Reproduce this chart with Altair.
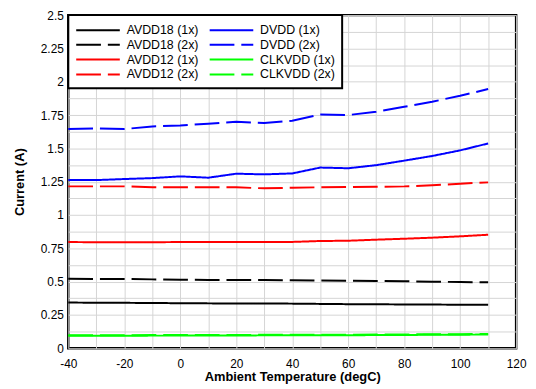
import altair as alt
import pandas as pd

temps = [-40, -30, -20, -10, 0, 10, 20, 30, 40, 50, 60, 70, 80, 90, 100, 110]
avdd18_1x = [0.343, 0.342, 0.341, 0.340, 0.338, 0.337, 0.336, 0.336, 0.335, 0.333, 0.331, 0.330, 0.329, 0.328, 0.327, 0.326]
avdd18_2x = [0.522, 0.520, 0.520, 0.517, 0.515, 0.512, 0.512, 0.512, 0.510, 0.508, 0.507, 0.505, 0.503, 0.500, 0.497, 0.495]
avdd12_1x = [0.797, 0.796, 0.796, 0.796, 0.797, 0.797, 0.798, 0.797, 0.798, 0.805, 0.807, 0.815, 0.822, 0.830, 0.840, 0.852]
avdd12_2x = [1.215, 1.215, 1.215, 1.208, 1.208, 1.208, 1.208, 1.200, 1.205, 1.208, 1.210, 1.212, 1.215, 1.223, 1.235, 1.245]
dvdd_1x = [1.262, 1.262, 1.270, 1.277, 1.290, 1.280, 1.310, 1.305, 1.312, 1.356, 1.351, 1.374, 1.408, 1.443, 1.485, 1.537]
dvdd_2x = [1.645, 1.650, 1.645, 1.665, 1.672, 1.685, 1.700, 1.690, 1.707, 1.755, 1.750, 1.775, 1.812, 1.850, 1.895, 1.945]
clkvdd_1x = [0.094, 0.094, 0.094, 0.095, 0.095, 0.096, 0.096, 0.097, 0.097, 0.098, 0.098, 0.099, 0.100, 0.101, 0.102, 0.103]
clkvdd_2x = [0.098, 0.098, 0.098, 0.099, 0.099, 0.100, 0.100, 0.101, 0.101, 0.102, 0.102, 0.103, 0.104, 0.105, 0.106, 0.107]

series = {
    "AVDD18 (1x)": avdd18_1x,
    "AVDD18 (2x)": avdd18_2x,
    "AVDD12 (1x)": avdd12_1x,
    "AVDD12 (2x)": avdd12_2x,
    "DVDD (1x)": dvdd_1x,
    "DVDD (2x)": dvdd_2x,
    "CLKVDD (1x)": clkvdd_1x,
    "CLKVDD (2x)": clkvdd_2x,
}

legend_order = list(series.keys())
colors = {"AVDD18": "#000000", "AVDD12": "#ff0000", "DVDD": "#0000ff", "CLKVDD": "#00ff00"}

rows = []
for name, vals in series.items():
    for t, v in zip(temps, vals):
        rows.append({"temp": t, "current": v, "series": name})
df = pd.DataFrame(rows)

color_range = [colors[s.split(" ")[0]] for s in legend_order]
dash_range = [[1, 0] if "(1x)" in s else [25, 7] for s in legend_order]

x_ticks = list(range(-40, 121, 10))
y_ticks = [i * 0.125 for i in range(21)]

chart = alt.Chart(df).mark_line(strokeWidth=2).encode(
    x=alt.X("temp:Q",
            scale=alt.Scale(domain=[-40, 120], nice=False, zero=False),
            axis=alt.Axis(values=x_ticks, title="Ambient Temperature (degC)",
                          labelExpr="datum.value % 20 == 0 ? toString(datum.value) : ''",
                          labelFlush=False, labelOverlap=False,
                          ticks=False, labelPadding=10, titlePadding=2)),
    y=alt.Y("current:Q",
            scale=alt.Scale(domain=[0, 2.5], nice=False),
            axis=alt.Axis(values=y_ticks, title="Current (A)",
                          labelExpr="round(datum.value * 8) % 2 == 0 ? toString(datum.value) : ''",
                          labelFlush=False, labelOverlap=False,
                          ticks=False, labelPadding=5, titlePadding=14)),
    color=alt.Color("series:N", scale=alt.Scale(domain=legend_order, range=color_range),
                    legend=alt.Legend(title=None)),
    strokeDash=alt.StrokeDash("series:N", scale=alt.Scale(domain=legend_order, range=dash_range),
                              legend=alt.Legend(title=None)),
    detail="series:N",
).properties(
    width=453,
    height=337,
    autosize=alt.AutoSizeParams(type="none"),
    padding={"left": 61, "top": 5, "right": 12, "bottom": 40},
).configure_view(
    stroke="#000000", strokeWidth=2.5
).configure_axis(
    domain=False,
    gridColor="#d4d4d4", gridWidth=1, gridOpacity=1,
    labelFont="Liberation Sans", labelFontSize=12, labelColor="#000000",
    titleFont="Liberation Sans", titleFontSize=13, titleFontWeight="bold", titleColor="#000000",
).configure_legend(
    orient="top-left", offset=0, columns=2, columnPadding=7, rowPadding=0,
    padding=7, fillColor="#ffffff", strokeColor="#000000", strokeWidth=2,
    symbolType="M-1,0H5.3", symbolSize=196, symbolStrokeWidth=2,
    labelOffset=36,
    labelFont="Liberation Sans", labelFontSize=12.5, labelColor="#000000", labelLimit=200,
)

chart.save("out.html", embed_options={"renderer": "svg", "actions": False})
